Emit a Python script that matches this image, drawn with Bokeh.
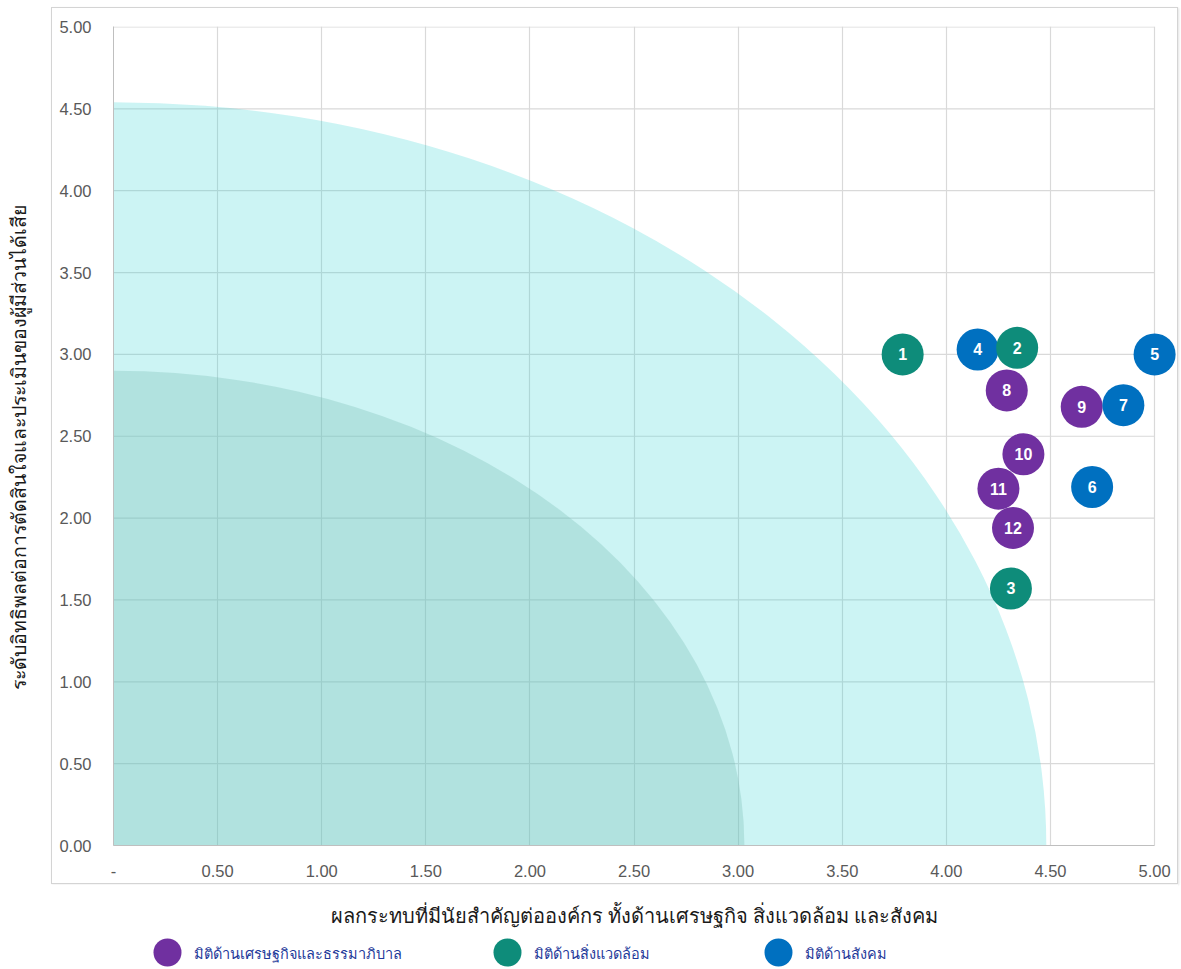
from bokeh.plotting import figure
from bokeh.models import Range1d, ColumnDataSource, CustomJSTickFormatter, NumeralTickFormatter, FixedTicker, Spacer
from bokeh.layouts import column, row
from bokeh.embed import file_html
from bokeh.resources import INLINE
from bokeh.core.properties import value

# ---------------- data ----------------
ids    = ["4", "2", "1", "5", "9", "7", "8", "10", "11", "12", "6", "3"]
impact = [4.15, 4.34, 3.79, 5.00, 4.65, 4.85, 4.29, 4.37, 4.25, 4.32, 4.70, 4.31]
influence = [3.03, 3.04, 3.00, 3.00, 2.68, 2.69, 2.78, 2.39, 2.18, 1.94, 2.19, 1.57]
group  = ["soc", "env", "env", "soc", "eco", "soc", "eco", "eco", "eco", "eco", "soc", "env"]

group_keys   = ["eco", "env", "soc"]
group_labels = ["มิติด้านเศรษฐกิจและธรรมาภิบาล", "มิติด้านสิ่งแวดล้อม", "มิติด้านสังคม"]
group_colors = ["#7030a0", "#0e8c7a", "#0070c0"]

zone_rx = [4.48, 3.03]
zone_ry = [4.54, 2.90]

x_ticks = [0, 0.5, 1.0, 1.5, 2.0, 2.5, 3.0, 3.5, 4.0, 4.5, 5.0]
y_ticks = [0, 0.5, 1.0, 1.5, 2.0, 2.5, 3.0, 3.5, 4.0, 4.5, 5.0]

x_title = "ผลกระทบที่มีนัยสำคัญต่อองค์กร ทั้งด้านเศรษฐกิจ สิ่งแวดล้อม และสังคม"
y_title = "ระดับอิทธิพลต่อการตัดสินใจและประเมินของผู้มีส่วนได้เสีย"

FONT = "Noto Sans"
NUMFONT = "Liberation Sans"
GRID = "#d9d9d9"

# ---------------- main chart ----------------
MW, MH = 1127, 877
p = figure(width=MW, height=MH, x_range=Range1d(0, 5.11), y_range=Range1d(0, 5.003),
           output_backend="svg", toolbar_location=None,
           min_border_left=61, min_border_right=2, min_border_top=18, min_border_bottom=40,
           styles={"border": "1px solid #d4d4d4", "box-shadow": "1px 1px 2px #e4e4e4"})
p.outline_line_color = None
p.background_fill_color = "white"

# horizontal grid lines limited to the 0..5 domain
p.ygrid.visible = False
p.segment(x0=[0] * len(y_ticks), x1=[max(x_ticks)] * len(y_ticks), y0=y_ticks, y1=y_ticks,
          line_color=GRID, line_width=1.2)

zone_fill = ["#33d3d3", "#75bbae"]
zone_alpha = [0.25, 0.30]
for rx, ry, c, a in zip(zone_rx, zone_ry, zone_fill, zone_alpha):
    p.ellipse(x=0, y=0, width=2 * rx, height=2 * ry, fill_color=c, fill_alpha=a, line_color=None)

color_map = dict(zip(group_keys, group_colors))
src = ColumnDataSource(dict(x=impact, y=influence, id=ids,
                            color=[color_map[g] for g in group]))
p.scatter(x="x", y="y", source=src, size=42, fill_color="color", line_color=None, marker="circle")
p.text(x="x", y="y", text="id", source=src, text_color="white", text_font=value(NUMFONT),
       text_font_style="bold", text_font_size="16px", text_align="center", text_baseline="middle")

p.xaxis.ticker = FixedTicker(ticks=x_ticks)
p.yaxis.ticker = FixedTicker(ticks=y_ticks)
p.xaxis.bounds = (0, max(x_ticks))
p.xaxis.formatter = CustomJSTickFormatter(code="return tick == 0 ? '-' : tick.toFixed(2);")
p.yaxis.formatter = NumeralTickFormatter(format="0.00")
for ax in (p.xaxis, p.yaxis):
    ax.major_tick_line_color = None
    ax.minor_tick_line_color = None
    ax.axis_line_color = "#bfbfbf"
    ax.major_label_text_font = NUMFONT
    ax.major_label_text_font_size = "16.5px"
    ax.major_label_text_color = "#595959"
p.xaxis.major_label_standoff = 13
p.yaxis.major_label_standoff = 16
p.xgrid.grid_line_color = GRID
p.xgrid.grid_line_width = 1.2

# ---------------- y title ----------------
YW = 51
yf = figure(width=YW, height=MH, x_range=Range1d(0, YW), y_range=Range1d(MH, 0),
            x_axis_type=None, y_axis_type=None, output_backend="svg", toolbar_location=None,
            min_border=0)
yf.outline_line_color = None
yf.grid.visible = False
yf.text(x=[18], y=[452], text=[y_title], angle=1.5708, text_font=value(FONT),
        text_font_size="19.5px", text_color="#1a1a1a", text_align="center", text_baseline="middle")

# ---------------- x title + legend ----------------
BW, BH = 1178, 84
bf = figure(width=BW, height=BH, x_range=Range1d(0, BW), y_range=Range1d(BH, 0),
            x_axis_type=None, y_axis_type=None, output_backend="svg", toolbar_location=None,
            min_border=0)
bf.outline_line_color = None
bf.grid.visible = False
bf.text(x=[634], y=[31], text=[x_title], text_font=value(FONT), text_font_size="20px",
        text_color="#1a1a1a", text_align="center", text_baseline="middle")

slot_x = [167, 507, 778]
bf.scatter(x=slot_x, y=[68] * 3, size=28, fill_color=group_colors, line_color=None, marker="circle")
bf.text(x=[s + 26 for s in slot_x], y=[68] * 3, text=group_labels, text_font=value(FONT),
        text_font_size="14.5px", text_color="#1f3a9a", text_align="left", text_baseline="middle")

layout = column(Spacer(height=7), row(yf, p, spacing=0), bf, spacing=0)
open("out.html", "w").write(file_html(layout, INLINE))
